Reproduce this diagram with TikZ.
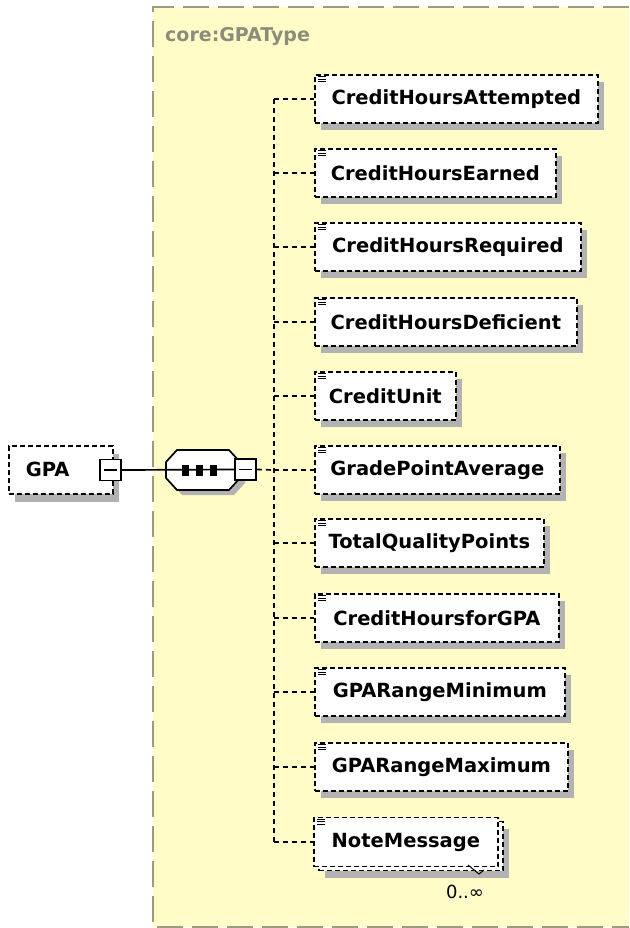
\documentclass[tikz,border=0pt]{standalone}
\usepackage{fontspec}
\setmainfont{DejaVu Sans}
\usetikzlibrary{shadows}
\definecolor{bgyellow}{RGB}{255,252,200}
\definecolor{bgborder}{RGB}{158,154,128}
\definecolor{labelgray}{RGB}{140,140,122}
\definecolor{shadowgray}{RGB}{178,178,178}
\tikzset{
  elem/.style={draw, fill=white, line width=1.7pt, dash pattern=on 5pt off 3pt,
    minimum height=48pt, inner sep=0pt, anchor=west,
    font=\fontsize{19.5}{22}\selectfont\bfseries,
    drop shadow={shadow xshift=6pt, shadow yshift=-7pt, fill=shadowgray, opacity=1}},
  elemnoshadow/.style={draw, fill=white, line width=1.7pt, dash pattern=on 5pt off 3pt,
    minimum height=48pt, inner sep=0pt, anchor=west,
    font=\fontsize{19.5}{22}\selectfont\bfseries},
  treeline/.style={line width=1.7pt, dash pattern=on 5pt off 4pt},
  minusbox/.style={draw, fill=white, line width=1.6pt, minimum width=21pt, minimum height=21pt, inner sep=0pt},
  solidline/.style={line width=1.7pt},
  icon/.style={line width=1pt}
}
\begin{document}
\begin{tikzpicture}[x=1pt,y=-1pt]
\useasboundingbox (0,0) rectangle (629,928);
\fill[white] (0,0) rectangle (629,928);
% yellow type region
\fill[bgyellow] (153,7) rectangle (629,927);
\draw[bgborder, line width=1.8pt, dash pattern=on 26pt off 9pt] (629,7) -- (153,7) -- (153,927) -- (629,927);
\node[anchor=west, text=labelgray, font=\fontsize{19}{22}\selectfont\bfseries, inner sep=0pt] (typelabel) at (165,37) {core:GPAType};

% GPA element
\node[draw, fill=white, line width=1.7pt, dash pattern=on 5pt off 3pt,
  minimum height=48pt, text width=70pt, inner xsep=17pt, inner ysep=0pt, align=left,
  anchor=north west, font=\fontsize{19.5}{22}\selectfont\bfseries,
  drop shadow={shadow xshift=6pt, shadow yshift=-8pt, fill=shadowgray, opacity=1}] (gpa) at (8,445) {GPA};
\node[minusbox] (gpam) at (110.5,470) {};
\draw[line width=1.3pt] (104,470) -- (117,470);

% sequence compositor
\fill[shadowgray] (171,467) -- (182,455) -- (234,455) -- (245,467) -- (245,483) -- (234,495) -- (182,495) -- (171,483) -- cycle;
\draw[fill=white, line width=1.7pt] (166,462) -- (177,450) -- (229,450) -- (240,462) -- (240,478) -- (229,490) -- (177,490) -- (166,478) -- cycle;
\coordinate (seq) at (203,470);
\node[minusbox] (seqm) at (245.5,469.5) {};
\draw[line width=1.3pt] (239,469.5) -- (252,469.5);
\draw[solidline] (gpam.east) -- (seqm.west);
\foreach \dx in {-18,-4,10} {
  \fill[black] ([xshift=\dx pt]seq) ++(-3.5,-5.5) rectangle ++(7,11);
}

% trunk
\coordinate (tj) at (274,470);
\draw[treeline] (seqm.east) -- (tj);

% child elements
\foreach \i/\t/\y/\w in {
  1/CreditHoursAttempted/99/283,
  2/CreditHoursEarned/173/241,
  3/CreditHoursRequired/247/266,
  4/CreditHoursDeficient/322/262,
  5/CreditUnit/396/141,
  6/GradePointAverage/470/245,
  7/TotalQualityPoints/543/229,
  8/CreditHoursforGPA/618/244,
  9/GPARangeMinimum/692/250,
  10/GPARangeMaximum/767/253} {
  \node[elem, minimum width=\w pt] (b\i) at (314,\y) {\t};
  \coordinate (t\i) at (274,\y);
  \draw[treeline] (t\i) -- (b\i.west);
  \draw[icon] ([xshift=4pt,yshift=-2.5pt]b\i.north west) -- ++(8,0);
  \draw[icon] ([xshift=4pt,yshift=-5pt]b\i.north west) -- ++(8,0);
  \draw[icon] ([xshift=4pt,yshift=-7.5pt]b\i.north west) -- ++(8,0);
}

% NoteMessage (multiple occurrence: stacked boxes)
\node[elem, minimum width=184pt, minimum height=49pt] (b11back) at (318,846) {};
\node[elemnoshadow, minimum width=184pt, minimum height=49pt] (b11) at (313,842) {NoteMessage};
\coordinate (t11) at (274,842);
\draw[treeline] (t11) -- (b11.west);
\draw[icon] ([xshift=4pt,yshift=-2.5pt]b11.north west) -- ++(8,0);
\draw[icon] ([xshift=4pt,yshift=-5pt]b11.north west) -- ++(8,0);
\draw[icon] ([xshift=4pt,yshift=-7.5pt]b11.north west) -- ++(8,0);
\draw[line width=1pt] (468,865) -- (479,874) -- (484,870);
\node[font=\fontsize{18}{20}\selectfont, inner sep=0pt] (occ) at (465,892) {0..∞};

% vertical trunk
\draw[treeline] (t1) -- (t11);
\end{tikzpicture}
\end{document}
